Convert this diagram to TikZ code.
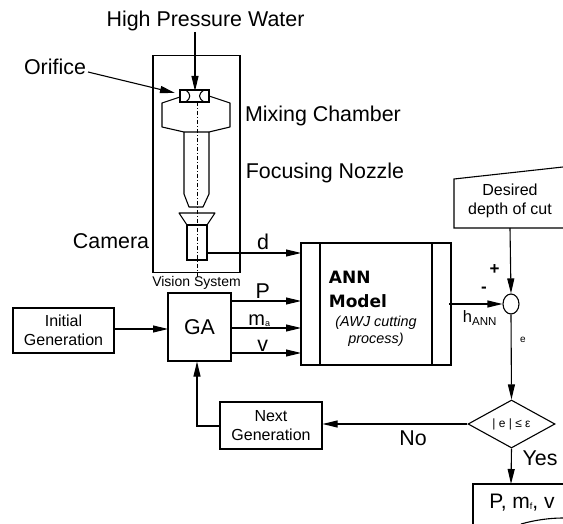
\documentclass[tikz,border=0pt]{standalone}
\usepackage{fontspec}
\setmainfont{Liberation Sans}
\newfontfamily\annfont{DejaVu Sans}
\usetikzlibrary{arrows.meta,shapes.geometric}
\newcommand{\lowsub}[1]{\raisebox{-0.5pt}{\fontsize{9}{9}\selectfont #1}}
\begin{document}
\begin{tikzpicture}
[x=1pt,y=-1pt,>={Stealth[length=15pt,width=7pt,inset=0pt]},line width=1.1pt,
block/.style={draw,rectangle,inner sep=0pt,align=center},
big/.style={font=\fontsize{21.4}{24}\selectfont},
mid/.style={font=\fontsize{16.5}{19}\selectfont},
small/.style={font=\fontsize{16}{18.5}\selectfont,align=center},
part/.style={draw,line join=round},]

\useasboundingbox (0,0) rectangle (563,524);

%Vision system
\node (VS) at (196.5,164)[block,minimum width=87pt,minimum height=217pt] {};
\node (VSlabel) at (196.5,283)[font=\fontsize{14}{16}\selectfont] {Vision System};
\draw[dash pattern=on 4pt off 2pt on 1pt off 2pt,line width=0.6pt] (197,102) -- (197,279);

%Nozzle parts
\node (Orifice) at (194.5,96)[block,minimum width=29pt,minimum height=12pt] {};
\draw[part] (186,90) .. controls (191,94) and (191,98) .. (186,102);
\draw[part] (204,90) .. controls (198,94) and (198,98) .. (204,102);
\draw[part] (180,97) -- (162,103) -- (162,127) -- (184,132) -- (209,132) -- (230,127) -- (230,103) -- (209,96);
\draw[part] (184,132) -- (184,194) -- (189,207) -- (203,207) -- (209,194) -- (209,132);
\draw[part] (179,213) -- (215,213) -- (207,225) -- (187,225) -- cycle;
\node (Camerabody) at (197,242.5)[block,minimum width=20pt,minimum height=35pt] {};

%Labels of the nozzle
\node (Water) at (205.5,21)[big] {High Pressure Water};
\node (OrificeText) at (55,67)[big] {Orifice};
\node (Chamber) at (323,116)[big] {Mixing Chamber};
\node (Focusing) at (325,173)[big] {Focusing Nozzle};
\node (CameraText) at (111,241)[big] {Camera};
\coordinate (WaterIn) at (195,32);
\coordinate (OrificeIn) at (88,72);
\coordinate (OrificeTip) at (175,93);
\coordinate (OrificeEnd) at (195,91);
\draw[->] (WaterIn) -- (OrificeEnd);
\draw[->] (OrificeIn) -- (OrificeTip);

%Blocks
\node (Initial) at (63.5,330.5)[block,minimum width=101pt,minimum height=45pt,small] {Initial\\Generation};
\node (GA) at (199.5,327)[block,minimum width=63pt,minimum height=68pt,big] {GA};
\node (ANN) at (376,304)[block,minimum width=150pt,minimum height=122pt] {};
\node (Next) at (271,425.5)[block,minimum width=102pt,minimum height=47pt,small] {Next\\Generation};
\draw (320,243) -- (320,365);
\draw (432,243) -- (432,365);
\node (ANNtext) at (325,289)[anchor=west,align=left,font=\annfont\bfseries\fontsize{17}{24}\selectfont] {ANN\\Model};
\node (ANNsub) at (376,331)[align=center,font=\itshape\fontsize{14.4}{17}\selectfont] {(AWJ cutting\\process)};

%Desired depth of cut
\coordinate (DesTL) at (454,179);
\coordinate (DesTR) at (563,167);
\coordinate (DesBL) at (454,228);
\coordinate (DesBR) at (563,228);
\coordinate (DesOut) at (510,228);
\draw (DesTR) -- (DesTL) -- (DesBL) -- (DesBR);
\node (Desired) at (510,201)[small] {Desired\\depth of cut};

%Summing point and test
\node (Sum) at (511,304)[draw,ellipse,minimum width=16pt,minimum height=20pt,inner sep=0pt] {};
\node (Test) at (511.5,424)[draw,diamond,aspect=1.77,minimum width=87pt,minimum height=48pt,inner sep=0pt,font=\fontsize{12}{14}\selectfont] {|\;e\;|\;≤\;ε};

%Result
\coordinate (ResTL) at (473,484);
\coordinate (ResTR) at (563,484);
\coordinate (ResBL) at (473,524);
\coordinate (ResIn) at (511,484);
\draw (ResBL) -- (ResTL) -- (ResTR);
\node (Result) at (522,503)[font=\fontsize{21}{24}\selectfont] {P, m\lowsub{f}, v};
\draw (521,524) .. controls (535,520) and (550,518) .. (563,518);

%Connectors
\coordinate (dOut) at (207,253);
\coordinate (dIn) at (301,253);
\coordinate (PIn) at (301,301);
\coordinate (mIn) at (301,328);
\coordinate (vIn) at (301,353);
\coordinate (GAin) at (168,329);
\coordinate (hOut) at (449,304);
\coordinate (Corner) at (197,426);
\draw[->] (dOut) -- (dIn);
\draw[->] (GA.east |- PIn) -- node[above,big,inner sep=2pt,pos=0.45] {P} (PIn);
\draw[->] (GA.east |- mIn) -- node[above,font=\fontsize{20}{22}\selectfont,inner sep=1pt,pos=0.4] {m\lowsub{a}} (mIn);
\draw[->] (GA.east |- vIn) -- node[above,big,inner sep=1pt,pos=0.45] {v} (vIn);
\draw[->] (Initial.east |- GAin) -- (GAin);
\draw[->] (hOut) -- (Sum.west);
\draw[->] (DesOut) -- (Sum.north);
\draw[->] (Sum.south) -- (Test.north);
\draw[->] (Test.south) -- (ResIn);
\draw[->] (Test.west) -- (Next.east |- Test.west);
\draw[->] (Next.west |- Corner) -- (Corner) -- (GA.south -| Corner);

%Connector labels
\node (dLabel) at (263,242)[big] {d};
\node (hLabel) at (480,318)[mid] {h\textsubscript{ANN}};
\node (Plus) at (494.5,270)[font=\bfseries\fontsize{17}{18}\selectfont] {+};
\node (Minus) at (484,290)[font=\bfseries\fontsize{17}{18}\selectfont] {-};
\node (eLabel) at (523,340)[font=\fontsize{10}{12}\selectfont] {e};
\node (No) at (413,438)[big] {No};
\node (Yes) at (540,458)[big] {Yes};
\end{tikzpicture}
\end{document}
